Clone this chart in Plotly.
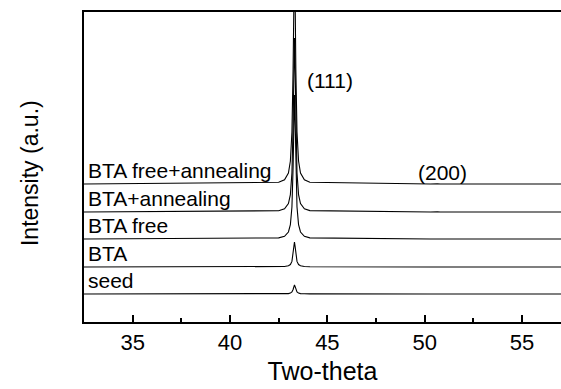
import numpy as np
import plotly.graph_objects as go

# Diffraction angle grid (2-theta, degrees), dense around Cu(111) and Cu(200)
two_theta = [32.5, 42.5, 42.8, 43.0, 43.1, 43.18, 43.24, 43.28, 43.31, 43.34, 43.38,
             43.44, 43.52, 43.62, 43.82, 44.1, 50.3, 50.45, 50.55, 50.65, 50.8, 57.0]

# Sample names, bottom to top, and the vertical offset of each stacked pattern
samples = ["seed", "BTA", "BTA free", "BTA+annealing", "BTA free+annealing"]
offsets = [28, 55, 83, 110, 138]

# Intensity above each pattern's own baseline (a.u.)
seed_int = [0, 0.1, 0.2, 0.4, 0.9, 2.0, 4.5, 7.6, 9, 7.6, 4.5, 2.0, 0.9, 0.4, 0.2, 0.1,
            0, 0, 0, 0, 0, 0]
bta_int = [0, 0.2, 0.5, 1.2, 2.5, 5.6, 12.5, 21, 25, 21, 12.5, 5.6, 2.5, 1.2, 0.5, 0.2,
           0, 0, 0, 0, 0, 0]
bta_free_int = [0, 1.1, 2.7, 7, 14.4, 32, 72, 122, 144, 122, 72, 32, 14.4, 7, 2.7, 1.1,
                0, 0, 0, 0, 0, 0]
bta_ann_int = [0, 1.3, 3.2, 8.4, 17.4, 39, 87, 147, 174, 147, 87, 39, 17.4, 8.4, 3.2, 1.4,
               0, 0.2, 0.8, 0.2, 0, 0]
bta_free_ann_int = [0, 1.7, 4.3, 11, 23, 52, 115, 194, 230, 194, 115, 52, 23, 11, 4.3, 1.8,
                    0, 0.2, 0.8, 0.2, 0, 0]
intensities = [seed_int, bta_int, bta_free_int, bta_ann_int, bta_free_ann_int]

x_ticks = [35, 40, 45, 50, 55]
peak_labels = [("(111)", 45.15, 242), ("(200)", 50.9, 150)]

FONT = "Arial, Liberation Sans, Helvetica, sans-serif"

fig = go.Figure()
for name, off, inten in zip(samples, offsets, intensities):
    fig.add_trace(go.Scatter(
        x=two_theta, y=np.array(inten) + off, mode="lines", name=name,
        line=dict(color="black", width=1.1), showlegend=False, hoverinfo="skip"))
    fig.add_annotation(x=0.004, xref="paper", y=off, yref="y", text=name,
                       xanchor="left", yanchor="bottom", showarrow=False,
                       font=dict(family=FONT, size=21, color="black"))

for txt, px, py in peak_labels:
    fig.add_annotation(x=px, y=py, text=txt, showarrow=False,
                       font=dict(family=FONT, size=21, color="black"))

# Vertical axis title
fig.add_annotation(x=-0.145, xref="paper", y=0.48, yref="paper",
                   text="Intensity (a.u.)", textangle=-90, showarrow=False,
                   font=dict(family=FONT, size=23, color="black"))

fig.update_layout(
    width=561, height=389,
    margin=dict(l=84, r=0, t=12, b=67),
    paper_bgcolor="white", plot_bgcolor="white",
    font=dict(family=FONT, color="black"),
    xaxis=dict(
        range=[32.5, 57.0], tickvals=x_ticks, ticks="inside", ticklen=7, tickwidth=2,
        tickcolor="black", showline=True, linecolor="black", linewidth=2, mirror=True,
        showgrid=False, zeroline=False, tickfont=dict(size=22),
        minor=dict(ticks="inside", ticklen=4, tickwidth=2, tickcolor="black",
                   tickvals=[37.5, 42.5, 47.5, 52.5, 57.5]),
        title=dict(text="Two-theta", font=dict(size=25), standoff=8)),
    yaxis=dict(
        range=[0, 310], showticklabels=False, ticks="", showline=True,
        linecolor="black", linewidth=2, showgrid=False, zeroline=False),
)

fig.write_html("out.html")
